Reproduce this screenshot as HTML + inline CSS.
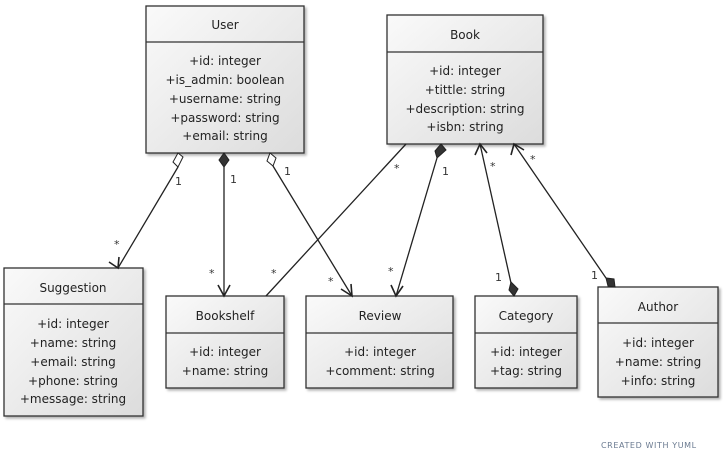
<!DOCTYPE html>
<html><head><meta charset="utf-8"><style>
html,body{margin:0;padding:0;background:#fff;width:723px;height:460px;overflow:hidden}
text{font-family:"DejaVu Sans","Liberation Sans",sans-serif;font-size:12px;fill:#222}
.m{font-size:11px;fill:#333}
</style></head><body>
<svg width="723" height="460" viewBox="0 0 723 460" xmlns="http://www.w3.org/2000/svg">
<defs>
<linearGradient id="g" x1="0" y1="0" x2="1" y2="1">
<stop offset="0" stop-color="#fafafa"/><stop offset="1" stop-color="#dcdcdc"/></linearGradient>
<filter id="s" x="-10%" y="-10%" width="130%" height="130%"><feDropShadow dx="2" dy="2" stdDeviation="1.2" flood-color="#000" flood-opacity="0.3"/></filter>
</defs>
<g stroke="#333" stroke-width="1.3" fill="url(#g)">
<rect x="146" y="6" width="158" height="147" filter="url(#s)"/><line x1="146" y1="42" x2="304" y2="42"/>
<rect x="387" y="15" width="156" height="129" filter="url(#s)"/><line x1="387" y1="52" x2="543" y2="52"/>
<rect x="4" y="268" width="139" height="148" filter="url(#s)"/><line x1="4" y1="304" x2="143" y2="304"/>
<rect x="166" y="296" width="118" height="92" filter="url(#s)"/><line x1="166" y1="333" x2="284" y2="333"/>
<rect x="306" y="296" width="147" height="92" filter="url(#s)"/><line x1="306" y1="333" x2="453" y2="333"/>
<rect x="475" y="296" width="102" height="92" filter="url(#s)"/><line x1="475" y1="333" x2="577" y2="333"/>
<rect x="598" y="287" width="120" height="110" filter="url(#s)"/><line x1="598" y1="323" x2="718" y2="323"/>
</g>
<g text-anchor="middle">
<text x="225" y="29">User</text>
<text x="225" y="65">+id: integer</text><text x="225" y="84">+is_admin: boolean</text><text x="225" y="103">+username: string</text><text x="225" y="122">+password: string</text><text x="225" y="140">+email: string</text>
<text x="465" y="39">Book</text>
<text x="465" y="75">+id: integer</text><text x="465" y="94">+tittle: string</text><text x="465" y="113">+description: string</text><text x="465" y="131">+isbn: string</text>
<text x="73" y="292">Suggestion</text>
<text x="73" y="328">+id: integer</text><text x="73" y="347">+name: string</text><text x="73" y="366">+email: string</text><text x="73" y="385">+phone: string</text><text x="73" y="403">+message: string</text>
<text x="225" y="320">Bookshelf</text>
<text x="225" y="356">+id: integer</text><text x="225" y="375">+name: string</text>
<text x="380" y="320">Review</text>
<text x="380" y="356">+id: integer</text><text x="380" y="375">+comment: string</text>
<text x="526" y="320">Category</text>
<text x="526" y="356">+id: integer</text><text x="526" y="375">+tag: string</text>
<text x="658" y="311">Author</text>
<text x="658" y="347">+id: integer</text><text x="658" y="366">+name: string</text><text x="658" y="385">+info: string</text>
</g>
<g stroke="#222" stroke-width="1.3" fill="none">
<line x1="178" y1="167" x2="118" y2="268"/>
<line x1="224" y1="167" x2="224" y2="296"/>
<line x1="273" y1="166" x2="352" y2="296"/>
<line x1="406" y1="144" x2="266" y2="296"/>
<line x1="437" y1="158" x2="396" y2="296"/>
<line x1="480" y1="144" x2="511" y2="283"/>
<line x1="514" y1="144" x2="606" y2="278"/>
<polyline points="109,262 118,268 119,257" stroke-width="1.6"/>
<polyline points="218,285 224,296 230,285" stroke-width="1.6"/>
<polyline points="341,289 352,296 351,284" stroke-width="1.6"/>
<polyline points="391,285 396,296 403,286" stroke-width="1.6"/>
<polyline points="475,155 480,144 487,153" stroke-width="1.6"/>
<polyline points="511,155 514,144 524,150" stroke-width="1.6"/>
</g>
<g stroke="#222" stroke-width="1">
<polygon points="178,153 183,157 178,167 173,162" fill="#fff"/>
<polygon points="224,153 229,160 224,167 219,160" fill="#333"/>
<polygon points="270,153 276,158 273,166 267,161" fill="#fff"/>
<polygon points="441,144 446,150 437,158 435,151" fill="#333"/>
<polygon points="514,296 509,290 511,282 518,289" fill="#333"/>
<polygon points="615,287 608,286 606,278 614,279" fill="#333"/>
</g>
<g class="m">
<text class="m" x="175" y="185">1</text><text class="m" x="114" y="248">*</text>
<text class="m" x="230" y="183">1</text><text class="m" x="209" y="277">*</text>
<text class="m" x="284" y="175">1</text><text class="m" x="328" y="285">*</text>
<text class="m" x="394" y="172">*</text><text class="m" x="271" y="277">*</text>
<text class="m" x="442" y="175">1</text><text class="m" x="388" y="275">*</text>
<text class="m" x="490" y="170">*</text><text class="m" x="495" y="281">1</text>
<text class="m" x="530" y="163">*</text><text class="m" x="591" y="279">1</text>
</g>
<text x="601" y="448" style="font-size:8px;fill:#6a7a90;letter-spacing:0.6px">CREATED WITH YUML</text>
</svg>
</body></html>
